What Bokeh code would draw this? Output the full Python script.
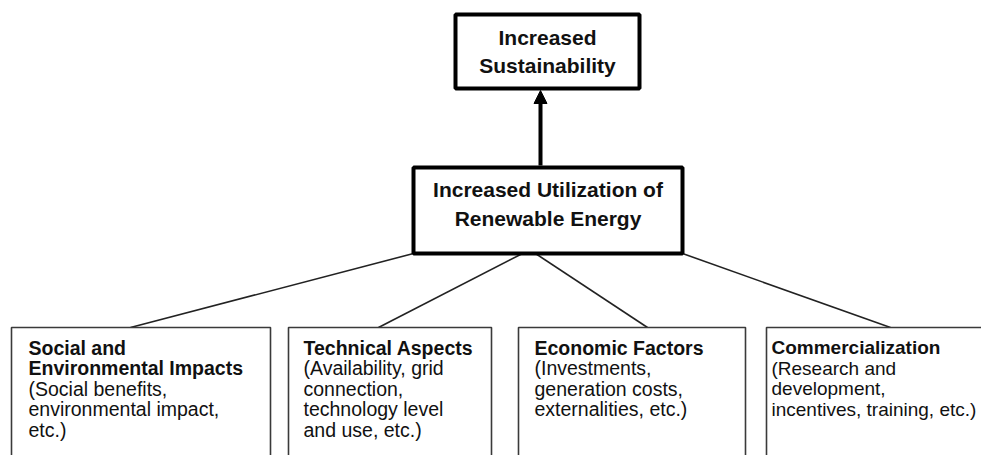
from bokeh.plotting import figure
from bokeh.models import Range1d, ColumnDataSource, Arrow, NormalHead
from bokeh.core.properties import value
from bokeh.embed import file_html
from bokeh.resources import INLINE

# ---- content (texts of the diagram) ----
top_label = ["Increased", "Sustainability"]
mid_label = ["Increased Utilization of", "Renewable Energy"]
factor_titles = [
    ["Social and", "Environmental Impacts"],
    ["Technical Aspects"],
    ["Economic Factors"],
    ["Commercialization"],
]
factor_details = [
    ["(Social benefits,", "environmental impact,", "etc.)"],
    ["(Availability, grid", "connection,", "technology level", "and use, etc.)"],
    ["(Investments,", "generation costs,", "externalities, etc.)"],
    ["(Research and", "development,", "incentives, training, etc.)"],
]

# ---- layout (pixel coordinates of the picture) ----
top_box = dict(left=455, right=639, top=14, bottom=88)
mid_box = dict(left=413, right=682, top=167, bottom=253)
fac_left = [11, 288, 518, 766]
fac_right = [270, 491, 745, 1010]
fac_top = 327
fac_bottom = 490
fac_text_x = [28, 303, 534, 771]
fac_font = ["19.5px", "19.5px", "19.5px", "19px"]
conn_x0 = [413, 522, 535, 682]
conn_x1 = [130, 378, 647, 890]
arrow_x = 540

FONT = value("Liberation Sans")

p = figure(width=981, height=455, x_range=Range1d(0, 981), y_range=Range1d(455, 0),
           output_backend="svg", toolbar_location=None,
           x_axis_location=None, y_axis_location=None, min_border=0)
p.grid.visible = False
p.outline_line_color = None
p.background_fill_color = "white"
p.border_fill_color = "white"

# connectors
p.segment(x0=conn_x0, y0=[mid_box["bottom"]] * 4, x1=conn_x1, y1=[fac_top] * 4,
          line_color="#222222", line_width=1.6)

# factor boxes
p.quad(left=fac_left, right=fac_right, top=[fac_top] * 4, bottom=[fac_bottom] * 4,
       fill_color="white", line_color="#3a3a3a", line_width=1.6)

# main boxes
p.quad(left=[top_box["left"], mid_box["left"]], right=[top_box["right"], mid_box["right"]],
       top=[top_box["top"], mid_box["top"]], bottom=[top_box["bottom"], mid_box["bottom"]],
       fill_color="white", line_color="black", line_width=4)

# arrow
p.add_layout(Arrow(end=NormalHead(size=13, fill_color="black", line_color="black"),
                   x_start=arrow_x, y_start=mid_box["top"] - 2,
                   x_end=arrow_x, y_end=top_box["bottom"] + 2,
                   line_width=4, line_color="black"))

# main box texts
cx_top = (top_box["left"] + top_box["right"]) / 2
cx_mid = (mid_box["left"] + mid_box["right"]) / 2
main_src = ColumnDataSource(dict(
    x=[cx_top, cx_top, cx_mid, cx_mid],
    y=[37, 65, 189, 218],
    t=top_label + mid_label,
))
p.text(x="x", y="y", text="t", source=main_src, text_font=FONT, text_font_size="21px",
       text_font_style="bold", text_align="center", text_baseline="middle", text_color="#111111")

# factor texts
row0, dy = 347, 20.5
for i in range(4):
    xl = fac_text_x[i]
    by, ry = [], []
    r = 0
    for s in factor_titles[i]:
        by.append(row0 + r * dy); r += 1
    for s in factor_details[i]:
        ry.append(row0 + r * dy); r += 1
    p.text(x=[xl] * len(by), y=by, text=factor_titles[i], text_font=FONT,
           text_font_size=fac_font[i], text_font_style="bold",
           text_align="left", text_baseline="middle", text_color="#111111")
    p.text(x=[xl] * len(ry), y=ry, text=factor_details[i], text_font=FONT,
           text_font_size=fac_font[i], text_font_style="normal",
           text_align="left", text_baseline="middle", text_color="#111111")

open("out.html", "w").write(file_html(p, INLINE))
